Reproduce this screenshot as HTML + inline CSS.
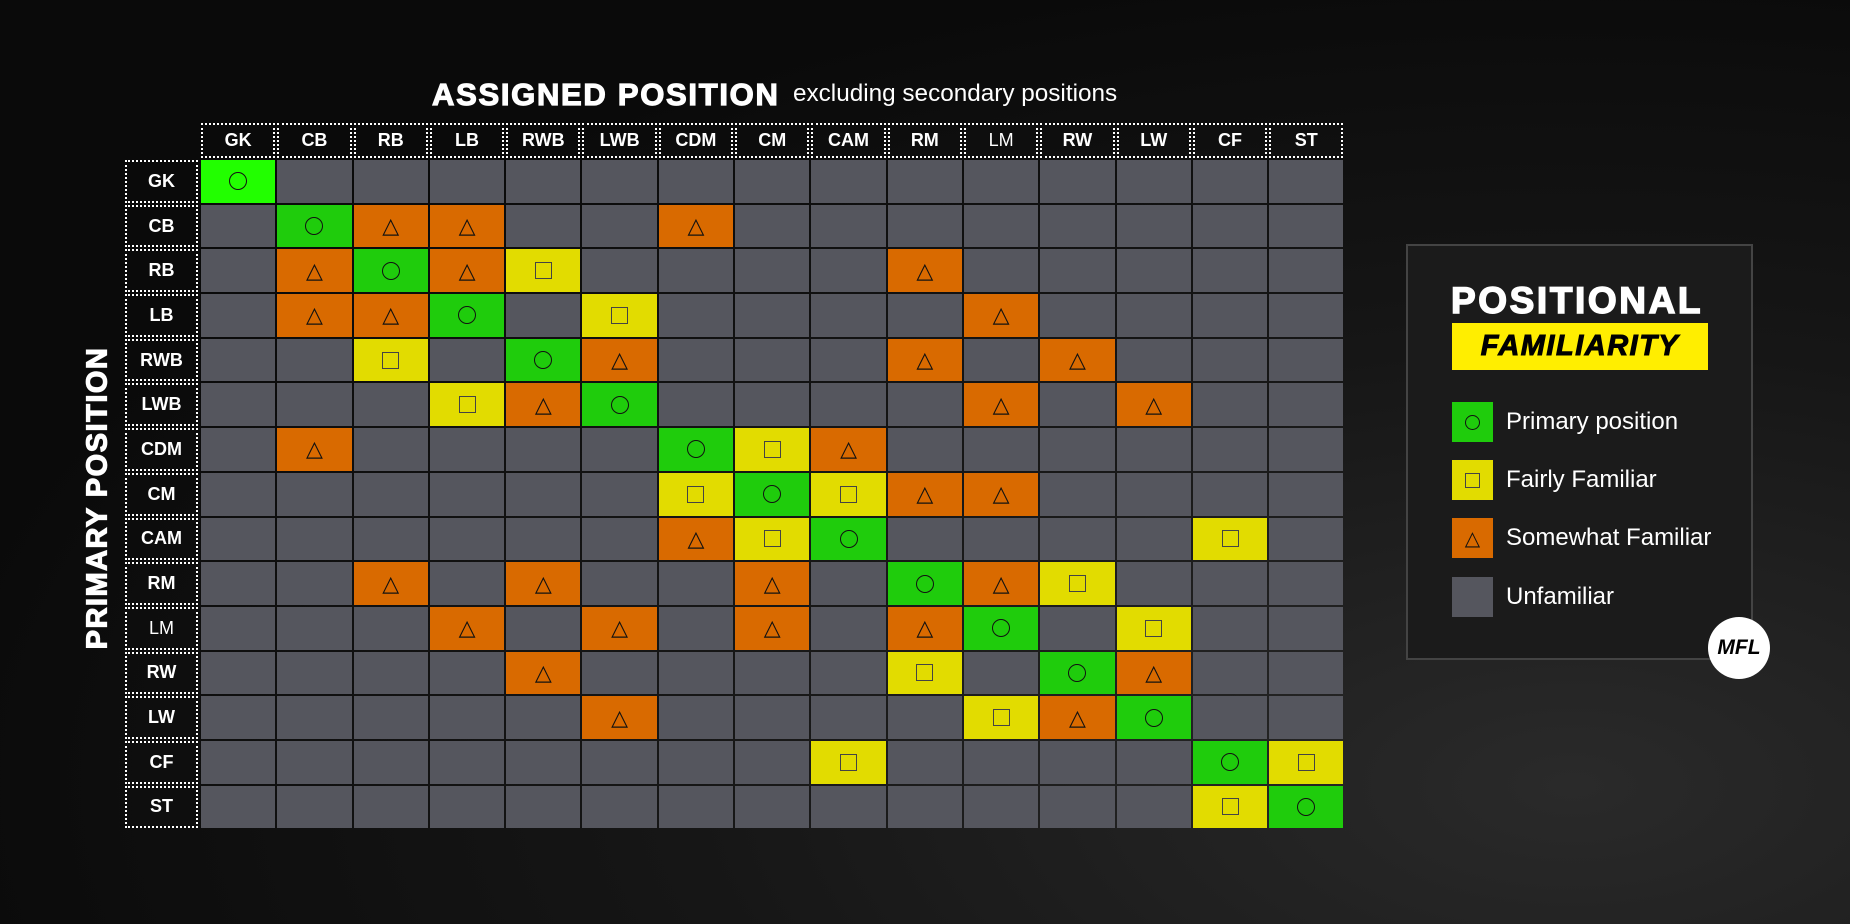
<!DOCTYPE html>
<html><head><meta charset="utf-8"><style>
*{margin:0;padding:0;box-sizing:border-box}
body{width:1850px;height:924px;overflow:hidden;background:radial-gradient(ellipse at 85% 85%,#2a2a2a 0%,#161616 40%,#0a0a0a 75%);font-family:"Liberation Sans",sans-serif;position:relative;color:#fff}
.t1{position:absolute;left:432px;top:77px;font-size:31px;font-weight:900;letter-spacing:1.7px;-webkit-text-stroke:1.2px #fff}
.t2{position:absolute;left:793px;top:80px;font-size:24.3px}
.vt{position:absolute;left:98px;top:498px;transform:translate(-50%,-50%) rotate(-90deg);font-size:29px;font-weight:900;letter-spacing:1.5px;white-space:nowrap;-webkit-text-stroke:1.2px #fff}
.hd{position:absolute;left:201px;top:123px;display:grid;grid-template-columns:repeat(15,74.3px);column-gap:2px}
.hd div{height:35px;border:2px dotted #fff;display:flex;align-items:center;justify-content:center;font-weight:bold;font-size:18px}
.rl{position:absolute;left:125px;top:160px;display:grid;grid-template-rows:repeat(15,42.7px);row-gap:2px}
.rl div{width:73px;border:2px dotted #fff;display:flex;align-items:center;justify-content:center;font-weight:bold;font-size:18px}
.gr{position:absolute;left:201px;top:160px;display:grid;grid-template-columns:repeat(15,74.3px);grid-template-rows:repeat(15,42.7px);gap:2px}
.gr div{background:#55565e;display:flex;align-items:center;justify-content:center;color:#111;font-size:22px;line-height:1}
.gr .p,.sp{background:#1fcc0c}.gr .q{background:#22ff00}.gr .f,.sf{background:#e2dc00}.gr .s{background:#d96a00}
.gr .p::after,.gr .q::after,.sp::after{content:"";width:16px;height:16px;border:1.6px solid #111;border-radius:50%}
.gr .f::after,.sf::after{content:"";width:15px;height:15px;border:1.5px solid #444}
.lg{position:absolute;left:1406px;top:244px;width:347px;height:416px;background:#1b1b1b;border:2px solid #444}
.lt{position:absolute;left:1451px;top:280px;font-size:37px;font-weight:900;letter-spacing:2.6px;-webkit-text-stroke:1.5px #fff}
.lb{position:absolute;left:1452px;top:323px;width:256px;height:47px;background:#ffee00;color:#000;font-size:29px;font-weight:900;font-style:italic;display:flex;align-items:center;justify-content:center;letter-spacing:1.5px;-webkit-text-stroke:1px #000}
.sw{position:absolute;left:1452px;width:41px;height:40px;display:flex;align-items:center;justify-content:center;color:#111;font-size:20px}
.sp::after{width:13px;height:13px;border-width:1.3px}
.sf::after{width:13px;height:13px}
.st{position:absolute;left:1506px;font-size:24px}
.mfl{position:absolute;left:1708px;top:617px;width:62px;height:62px;border-radius:50%;background:#fff;color:#000;font-weight:900;font-style:italic;font-size:21px;display:flex;align-items:center;justify-content:center}
</style></head><body>
<div class="t1">ASSIGNED POSITION</div><div class="t2">excluding secondary positions</div>
<div class="vt">PRIMARY POSITION</div>
<div class="hd"><div>GK</div><div>CB</div><div>RB</div><div>LB</div><div>RWB</div><div>LWB</div><div>CDM</div><div>CM</div><div>CAM</div><div>RM</div><div style="font-weight:normal">LM</div><div>RW</div><div>LW</div><div>CF</div><div>ST</div></div>
<div class="rl"><div>GK</div><div>CB</div><div>RB</div><div>LB</div><div>RWB</div><div>LWB</div><div>CDM</div><div>CM</div><div>CAM</div><div>RM</div><div style="font-weight:normal">LM</div><div>RW</div><div>LW</div><div>CF</div><div>ST</div></div>
<div class="gr">
<div class="q"></div><div></div><div></div><div></div><div></div><div></div><div></div><div></div><div></div><div></div><div></div><div></div><div></div><div></div><div></div>
<div></div><div class="p"></div><div class="s">△</div><div class="s">△</div><div></div><div></div><div class="s">△</div><div></div><div></div><div></div><div></div><div></div><div></div><div></div><div></div>
<div></div><div class="s">△</div><div class="p"></div><div class="s">△</div><div class="f"></div><div></div><div></div><div></div><div></div><div class="s">△</div><div></div><div></div><div></div><div></div><div></div>
<div></div><div class="s">△</div><div class="s">△</div><div class="p"></div><div></div><div class="f"></div><div></div><div></div><div></div><div></div><div class="s">△</div><div></div><div></div><div></div><div></div>
<div></div><div></div><div class="f"></div><div></div><div class="p"></div><div class="s">△</div><div></div><div></div><div></div><div class="s">△</div><div></div><div class="s">△</div><div></div><div></div><div></div>
<div></div><div></div><div></div><div class="f"></div><div class="s">△</div><div class="p"></div><div></div><div></div><div></div><div></div><div class="s">△</div><div></div><div class="s">△</div><div></div><div></div>
<div></div><div class="s">△</div><div></div><div></div><div></div><div></div><div class="p"></div><div class="f"></div><div class="s">△</div><div></div><div></div><div></div><div></div><div></div><div></div>
<div></div><div></div><div></div><div></div><div></div><div></div><div class="f"></div><div class="p"></div><div class="f"></div><div class="s">△</div><div class="s">△</div><div></div><div></div><div></div><div></div>
<div></div><div></div><div></div><div></div><div></div><div></div><div class="s">△</div><div class="f"></div><div class="p"></div><div></div><div></div><div></div><div></div><div class="f"></div><div></div>
<div></div><div></div><div class="s">△</div><div></div><div class="s">△</div><div></div><div></div><div class="s">△</div><div></div><div class="p"></div><div class="s">△</div><div class="f"></div><div></div><div></div><div></div>
<div></div><div></div><div></div><div class="s">△</div><div></div><div class="s">△</div><div></div><div class="s">△</div><div></div><div class="s">△</div><div class="p"></div><div></div><div class="f"></div><div></div><div></div>
<div></div><div></div><div></div><div></div><div class="s">△</div><div></div><div></div><div></div><div></div><div class="f"></div><div></div><div class="p"></div><div class="s">△</div><div></div><div></div>
<div></div><div></div><div></div><div></div><div></div><div class="s">△</div><div></div><div></div><div></div><div></div><div class="f"></div><div class="s">△</div><div class="p"></div><div></div><div></div>
<div></div><div></div><div></div><div></div><div></div><div></div><div></div><div></div><div class="f"></div><div></div><div></div><div></div><div></div><div class="p"></div><div class="f"></div>
<div></div><div></div><div></div><div></div><div></div><div></div><div></div><div></div><div></div><div></div><div></div><div></div><div></div><div class="f"></div><div class="p"></div>
</div>
<div class="lg"></div>
<div class="lt">POSITIONAL</div>
<div class="lb">FAMILIARITY</div>
<div class="sw sp" style="top:402px"></div><div class="st" style="top:408px">Primary position</div>
<div class="sw sf" style="top:460px"></div><div class="st" style="top:466px">Fairly Familiar</div>
<div class="sw" style="top:518px;background:#d96a00">△</div><div class="st" style="top:524px">Somewhat Familiar</div>
<div class="sw" style="top:577px;background:#55565e"></div><div class="st" style="top:583px">Unfamiliar</div>
<div class="mfl">MFL</div>
</body></html>
